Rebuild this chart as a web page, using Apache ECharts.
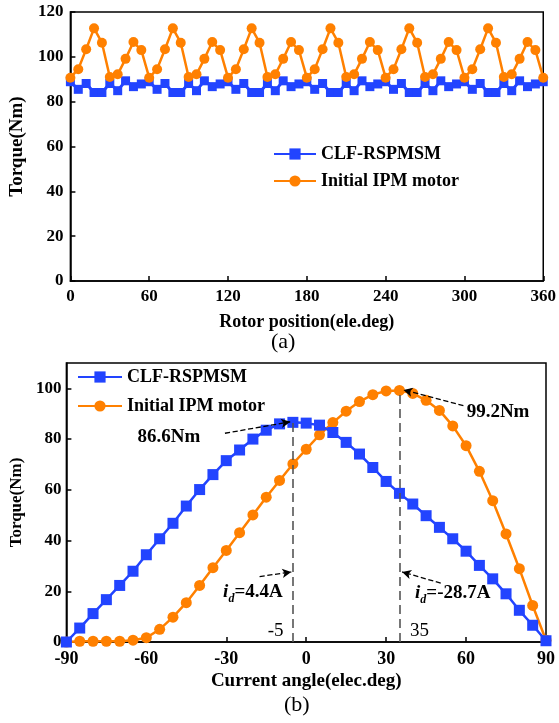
<!DOCTYPE html>
<html><head><meta charset="utf-8">
<script src="https://cdn.jsdelivr.net/npm/echarts@6/dist/echarts.min.js"></script>
<style>html,body{margin:0;padding:0;background:#fff}#c{width:559px;height:723px}</style>
</head><body><div id="c"></div>
<script>
// ---- (a) torque vs rotor position ----
const rotorPos = [0,6,12,18,24,30,36,42,48,54,60,66,72,78,84,90,96,102,108,114,120,126,132,138,144,150,156,162,168,174,180,186,192,198,204,210,216,222,228,234,240,246,252,258,264,270,276,282,288,294,300,306,312,318,324,330,336,342,348,354,360];
const clfA = [88.9,85.5,88.1,84.1,84.1,88.1,84.9,89.3,86.7,87.9,
              88.9,85.5,88.1,84.1,84.1,88.1,84.9,89.3,86.7,87.9,
              88.9,85.5,88.1,84.1,84.1,88.1,84.9,89.3,86.7,87.9,
              88.9,85.5,88.1,84.1,84.1,88.1,84.9,89.3,86.7,87.9,
              88.9,85.5,88.1,84.1,84.1,88.1,84.9,89.3,86.7,87.9,
              88.9,85.5,88.1,84.1,84.1,88.1,84.9,89.3,86.7,87.9,88.9];
const ipmA = [90.7,94.5,103.4,112.7,106.3,91.0,92.2,99.1,106.6,103.0,
              90.7,94.5,103.4,112.7,106.3,91.0,92.2,99.1,106.6,103.0,
              90.7,94.5,103.4,112.7,106.3,91.0,92.2,99.1,106.6,103.0,
              90.7,94.5,103.4,112.7,106.3,91.0,92.2,99.1,106.6,103.0,
              90.7,94.5,103.4,112.7,106.3,91.0,92.2,99.1,106.6,103.0,
              90.7,94.5,103.4,112.7,106.3,91.0,92.2,99.1,106.6,103.0,90.7];
// ---- (b) torque vs current angle ----
const currentAngle = [-90,-85,-80,-75,-70,-65,-60,-55,-50,-45,-40,-35,-30,-25,-20,-15,-10,-5,0,5,10,15,20,25,30,35,40,45,50,55,60,65,70,75,80,85,90];
const clfB = [0,5.5,11.2,16.7,22.3,27.9,34.4,40.7,46.8,53.6,60.1,66.0,71.5,75.7,80.0,83.5,86.0,86.6,86.3,85.5,82.6,78.7,74.1,68.8,63.3,58.6,54.4,49.8,45.2,40.7,35.8,30.2,24.9,19.0,12.5,6.6,0.5];
const ipmB = [0,0.3,0.3,0.3,0.3,0.7,1.7,5.0,9.8,15.5,22.3,29.3,36.1,43.1,50.1,57.1,63.7,70.2,76.0,81.7,86.5,91.0,94.8,97.5,99.0,99.2,98.0,95.3,91.3,85.2,77.4,67.3,55.7,42.6,28.9,14.4,0.7];

const seriesNames = ['CLF-RSPMSM','Initial IPM motor'];
const BLUE = '#2244ff', ORANGE = '#ff8000';
const FONT = '"Liberation Serif","Times New Roman",serif';

function pairs(xs, ys){ return xs.map((x,i)=>[x, ys[i]]); }

const axisCommon = {
  axisLine:{show:true, onZero:false, lineStyle:{color:'#000', width:1.5}},
  axisTick:{show:true, inside:true, length:5, lineStyle:{color:'#000', width:1.5}},
  splitLine:{show:false},
  nameTextStyle:{fontFamily:FONT, fontWeight:'bold', color:'#000'}
};
function lab(size, margin, extra){ return Object.assign({fontFamily:FONT, fontWeight:'bold', fontSize:size, color:'#000', margin:margin}, extra||{}); }

const dashArrow = {type:'dashed', color:'#000', width:1.3, dashOffset:0};
const vDash = {type:[9,5], color:'#555', width:1.6};

const chart = echarts.init(document.getElementById('c'), null, {renderer:'canvas'});
chart.setOption({
  animation:false,
  backgroundColor:'#fff',
  grid:[
    {left:63, right:14, top:12, height:269, show:true, borderColor:'#000', borderWidth:1.5, backgroundColor:'transparent'},
    {left:63, right:13, top:363, height:279, show:true, borderColor:'#000', borderWidth:1.5, backgroundColor:'transparent'}
  ],
  legend:[
    {data:seriesNames, orient:'vertical', left:268, top:140, itemWidth:42, itemHeight:14, itemGap:9,
     textStyle:{fontFamily:FONT, fontWeight:'bold', fontSize:18, color:'#000'}},
    {data:seriesNames, orient:'vertical', left:72, top:363, itemWidth:44, itemHeight:14, itemGap:11,
     textStyle:{fontFamily:FONT, fontWeight:'bold', fontSize:18, color:'#000'}}
  ],
  xAxis:[
    Object.assign({}, axisCommon, {type:'value', gridIndex:0, min:0, max:360, interval:60,
      name:'Rotor position(ele.deg)', nameLocation:'middle', nameGap:32,
      nameTextStyle:{fontFamily:FONT, fontWeight:'bold', fontSize:18, color:'#000'},
      axisLabel:lab(17, 7)}),
    Object.assign({}, axisCommon, {type:'value', gridIndex:1, min:-90, max:90, interval:30,
      name:'Current angle(elec.deg)', nameLocation:'middle', nameGap:30,
      nameTextStyle:{fontFamily:FONT, fontWeight:'bold', fontSize:19, color:'#000'},
      axisLabel:lab(18, 8)})
  ],
  yAxis:[
    Object.assign({}, axisCommon, {type:'value', gridIndex:0, min:0, max:120, interval:20,
      name:'Torque(Nm)', nameLocation:'middle', nameGap:36,
      nameTextStyle:{fontFamily:FONT, fontWeight:'bold', fontSize:19, color:'#000'},
      axisLabel:lab(17, 7)}),
    Object.assign({}, axisCommon, {type:'value', gridIndex:1, min:0, max:110, interval:20,
      name:'Torque(Nm)', nameLocation:'middle', nameGap:33,
      nameTextStyle:{fontFamily:FONT, fontWeight:'bold', fontSize:17, color:'#000'},
      axisLabel:lab(17, 5, {showMaxLabel:false})})
  ],
  series:[
    {name:seriesNames[0], type:'line', xAxisIndex:0, yAxisIndex:0, data:pairs(rotorPos, clfA),
     symbol:'rect', symbolSize:9, lineStyle:{color:BLUE, width:3}, itemStyle:{color:BLUE}, z:2},
    {name:seriesNames[1], type:'line', xAxisIndex:0, yAxisIndex:0, data:pairs(rotorPos, ipmA),
     symbol:'circle', symbolSize:10, lineStyle:{color:ORANGE, width:2.5}, itemStyle:{color:ORANGE}, z:3},
    {name:seriesNames[0], type:'line', xAxisIndex:1, yAxisIndex:1, data:pairs(currentAngle, clfB),
     symbol:'rect', symbolSize:11, lineStyle:{color:BLUE, width:2.5}, itemStyle:{color:BLUE}, z:3,
     markLine:{silent:true, symbol:['none','none'], label:{show:false}, animation:false,
       data:[
         [{coord:[-5,0], lineStyle:vDash},{coord:[-5,86.6]}],
         [{coord:[35,0], lineStyle:vDash},{coord:[35,99.2]}],
         [{coord:[-30.5,82.3], lineStyle:dashArrow, symbol:'none'},{coord:[-6,86.8], symbol:'arrow', symbolSize:[7,9]}],
         [{coord:[59,93.2], lineStyle:dashArrow, symbol:'none'},{coord:[36.5,99.4], symbol:'arrow', symbolSize:[7,9]}],
         [{coord:[-17.5,25.8], lineStyle:dashArrow, symbol:'none'},{coord:[-5.6,27.6], symbol:'arrow', symbolSize:[7,9]}],
         [{coord:[50.5,23.2], lineStyle:dashArrow, symbol:'none'},{coord:[36,27.6], symbol:'arrow', symbolSize:[7,9]}]
       ]},
     markPoint:{silent:true, symbol:'rect', symbolSize:0, animation:false,
       label:{show:true, position:'inside', color:'#000', fontFamily:FONT, fontWeight:'bold', fontSize:19},
       data:[
         {coord:[-51.5,80.6], label:{formatter:'86.6Nm'}},
         {coord:[72,90.6], label:{formatter:'99.2Nm'}},
         {coord:[-20,19.5], label:{formatter:'{i|i}{d|d}{t|=4.4A}', rich:{
            i:{fontFamily:FONT, fontStyle:'italic', fontWeight:'bold', fontSize:19, color:'#000', verticalAlign:'bottom'},
            d:{fontFamily:FONT, fontStyle:'italic', fontSize:12, color:'#000', verticalAlign:'bottom', padding:[0,0,-3,0]},
            t:{fontFamily:FONT, fontWeight:'bold', fontSize:19, color:'#000', verticalAlign:'bottom'}}}},
         {coord:[55,19.3], label:{formatter:'{i|i}{d|d}{t|=-28.7A}', rich:{
            i:{fontFamily:FONT, fontStyle:'italic', fontWeight:'bold', fontSize:19, color:'#000', verticalAlign:'bottom'},
            d:{fontFamily:FONT, fontStyle:'italic', fontSize:12, color:'#000', verticalAlign:'bottom', padding:[0,0,-3,0]},
            t:{fontFamily:FONT, fontWeight:'bold', fontSize:19, color:'#000', verticalAlign:'bottom'}}}},
         {coord:[-11.5,4.5], label:{formatter:'-5', fontWeight:'normal'}},
         {coord:[42.5,4.5], label:{formatter:'35', fontWeight:'normal'}}
       ]}},
    {name:seriesNames[1], type:'line', xAxisIndex:1, yAxisIndex:1, data:pairs(currentAngle, ipmB),
     symbol:'circle', symbolSize:11, lineStyle:{color:ORANGE, width:2.5}, itemStyle:{color:ORANGE}, z:2}
  ],
  graphic:[
    {type:'text', left:271, top:331, style:{text:'(a)', fontFamily:FONT, fontSize:22, fill:'#000'}},
    {type:'text', left:284, top:694, style:{text:'(b)', fontFamily:FONT, fontSize:22, fill:'#000'}}
  ]
});
</script></body></html>
